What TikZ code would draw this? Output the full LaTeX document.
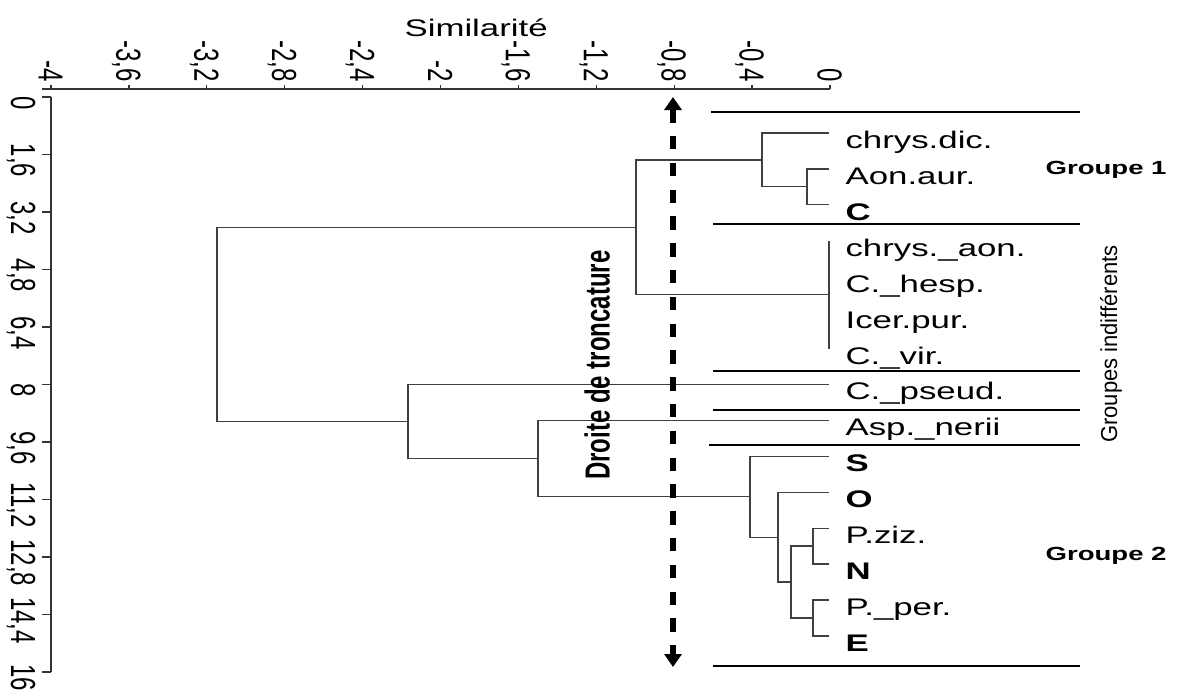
\documentclass[tikz,border=0pt]{standalone}
\usepackage{fontspec}
\setmainfont{Liberation Sans}
\usetikzlibrary{arrows.meta}
\newcommand\leaffont{\fontsize{12bp}{14bp}\selectfont}
\newcommand\groupfont{\fontsize{9.5bp}{11bp}\selectfont\bfseries}
\begin{document}
\begin{tikzpicture}[x=0.5bp, y=-0.5bp,
  branch/.style={draw=black!75, line width=0.65bp},
  axisline/.style={draw=black!80, line width=0.65bp},
  groupsep/.style={draw=black, line width=1.3bp},
  cutline/.style={draw=black, line width=2.6bp, dash pattern=on 6.7bp off 6.7bp,
    {Triangle[width=8.5bp,length=6.5bp]}-{Triangle[width=8.5bp,length=6.5bp]}},
  leaf/.style={font=\leaffont, inner sep=0pt, xscale=1.45, anchor=base west},
  leafb/.style={leaf, font=\leaffont\bfseries},
  ticklabel/.style={font=\leaffont, inner sep=0pt, xscale=1.45, rotate=-90},
  grouplabel/.style={font=\groupfont, inner sep=0pt, xscale=1.45, anchor=base west},
]
\useasboundingbox (0,0) rectangle (1179,691);

% similarity axis (top)
\draw[axisline] (42,89) -- (830,89);
\foreach \v/\s in {-4/-4,-3.6/{-3,6},-3.2/{-3,2},-2.8/{-2,8},-2.4/{-2,4},-2/-2,
                   -1.6/{-1,6},-1.2/{-1,2},-0.8/{-0,8},-0.4/{-0,4},0/0}{
  \draw[axisline] ({830+194.75*\v},89) -- ++(0,-4);
  \node[ticklabel, anchor=base east] at ({830+194.75*\v-12.5},82) {\s};
}
\node[leaf] (simtitle) at (404,37) {Similarité};

% position axis (left)
\draw[axisline] (51,97) -- (51,672);
\foreach \v/\s in {0/0,1.6/{1,6},3.2/{3,2},4.8/{4,8},6.4/{6,4},8/8,9.6/{9,6},
                   11.2/{11,2},12.8/{12,8},14.4/{14,4},16/16}{
  \draw[axisline] (51,{97+35.93*\v}) -- ++(-9,0);
  \node[ticklabel, anchor=base] at (11,{97+35.93*\v+6}) {\s};
}

% leaves
\foreach \i in {1,...,15}
  \coordinate (l\i) at (829,{97+35.93*\i});
\foreach \i/\t/\st in {1/chrys.dic./leaf, 2/Aon.aur./leaf, 3/C/leafb,
    4/chrys.\_aon./leaf, 5/C.\_hesp./leaf, 6/Icer.pur./leaf, 7/C.\_vir./leaf,
    8/C.\_pseud./leaf, 9/Asp.\_nerii/leaf, 10/S/leafb, 11/O/leafb,
    12/P.ziz./leaf, 13/N/leafb, 14/P.\_per./leaf, 15/E/leafb}
  \node[\st] (t\i) at ([shift={(16,15.5)}]l\i) {\t};

% internal nodes of the dendrogram
\coordinate (m1) at (807,186.83);
\coordinate (m2) at (762,159.88);
\coordinate (m3) at (829,294.6);
\coordinate (m4) at (636,227.24);
\coordinate (m5) at (813,546.13);
\coordinate (m6) at (813,617.99);
\coordinate (m7) at (791,582.06);
\coordinate (m8) at (778,537.15);
\coordinate (m9) at (750,496.72);
\coordinate (m10) at (538,458.55);
\coordinate (m11) at (408,421.5);
\coordinate (root) at (217,324.37);

\draw[branch] (l2) -| (m1);  \draw[branch] (l3) -| (m1);
\draw[branch] (l1) -| (m2);  \draw[branch] (m1) -| (m2);
\draw[branch] (l4) -| (m3);  \draw[branch] (l5) -| (m3);
\draw[branch] (l6) -| (m3);  \draw[branch] (l7) -| (m3);
\draw[branch] (m2) -| (m4);  \draw[branch] (m3) -| (m4);
\draw[branch] (l12) -| (m5); \draw[branch] (l13) -| (m5);
\draw[branch] (l14) -| (m6); \draw[branch] (l15) -| (m6);
\draw[branch] (m5) -| (m7);  \draw[branch] (m6) -| (m7);
\draw[branch] (l11) -| (m8); \draw[branch] (m7) -| (m8);
\draw[branch] (l10) -| (m9); \draw[branch] (m8) -| (m9);
\draw[branch] (l9) -| (m10); \draw[branch] (m9) -| (m10);
\draw[branch] (l8) -| (m11); \draw[branch] (m10) -| (m11);
\draw[branch] (m4) -| (root); \draw[branch] (m11) -| (root);

% group separators
\draw[groupsep] (711,112) -- (1080,112);
\draw[groupsep] (713,224) -- (1080,224);
\draw[groupsep] (713,371) -- (1080,371);
\draw[groupsep] (713,410) -- (1080,410);
\draw[groupsep] (709,445) -- (1080,445);
\draw[groupsep] (713,666) -- (1080,666);

% truncation line
\coordinate (cutTop) at (673,97);
\coordinate (cutBot) at (673,667);
\draw[cutline] (cutTop) -- (cutBot);
\node[font=\leaffont\bfseries, inner sep=0pt, xscale=1.45, rotate=90, anchor=base]
  (cutlabel) at (609.5,365) {Droite de troncature};

% group labels
\node[grouplabel] (g1) at (1045,174) {Groupe 1};
\node[grouplabel] (g2) at (1045,560) {Groupe 2};
\node[font=\fontsize{11bp}{13bp}\selectfont, inner sep=0pt, xscale=1.05, rotate=90, anchor=base]
  (gind) at (1117,344) {Groupes indifférents};
\end{tikzpicture}
\end{document}
